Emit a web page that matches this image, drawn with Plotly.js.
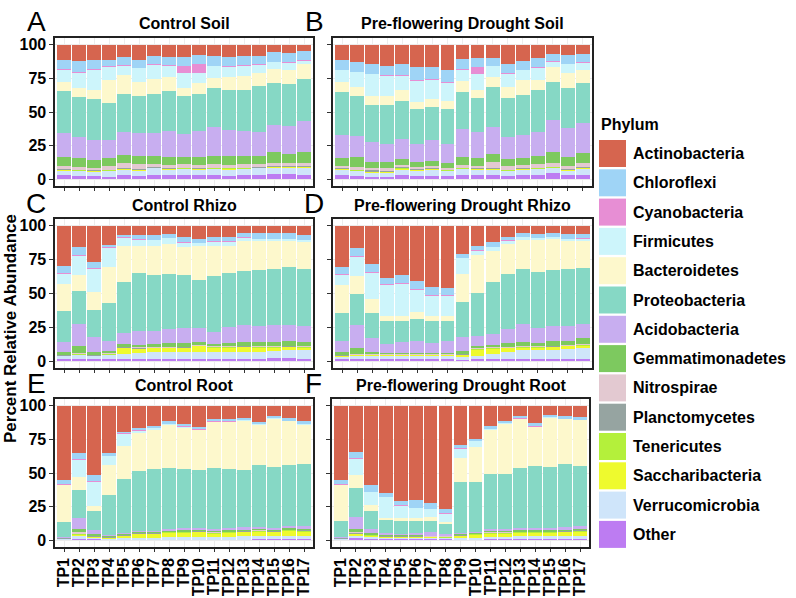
<!DOCTYPE html>
<html><head><meta charset="utf-8">
<script src="https://cdn.plot.ly/plotly-3.0.1.min.js"></script>
<style>html,body{margin:0;padding:0;background:#fff}#chart{width:796px;height:598px}</style>
</head><body><div id="chart"></div>
<script>
const phyla = ['Actinobacteria','Chloroflexi','Cyanobacteria','Firmicutes','Bacteroidetes','Proteobacteria','Acidobacteria','Gemmatimonadetes','Nitrospirae','Planctomycetes','Tenericutes','Saccharibacteria','Verrucomicrobia','Other'];
const colors = ['#D6654F','#9FD4F6','#E78ED4','#CDF5FB','#FDF8CC','#86D8C5','#C8AEF0','#7DC95F','#E3C9D1','#96A4A1','#B4F03B','#EEFA2E','#CFE5FA','#BD7CF2'];
const timepoints = ['TP1','TP2','TP3','TP4','TP5','TP6','TP7','TP8','TP9','TP10','TP11','TP12','TP13','TP14','TP15','TP16','TP17'];
const yTicks = [0, 25, 50, 75, 100];

// rows = time points, columns follow the phyla order
const controlSoil = [
[11,7,0.7,9,7,31,18,6,2.5,0.6,0.3,0.3,3.5,3],
[12,8,0.7,11,7,29.5,15.5,6.5,2,0.5,0.3,0.3,3.5,2.5],
[11.5,6.5,0.5,15,7,30,15,6,1.5,0.5,0.3,0.3,3,2.5],
[11,5,0.5,10,17,27.5,13,6,3,0.5,0.3,0.3,4,2],
[9,6,0.5,7,14,28.5,17,6,4,0.5,0.3,0.3,4,3],
[11,6,0.5,10,10.5,28,17,5.5,4,0.5,0.3,0.3,4,2.5],
[8.5,6,0.5,10.5,11,28.5,17,6,2.5,0.5,0.3,0.3,4.5,3.5],
[9,6,0.5,8.5,10.5,29,19.5,6,2.5,0.5,0.3,0.3,4,3],
[9,7,5,11.5,6,28,17,5.5,2.5,0.5,0.3,0.3,4.5,3],
[7.5,6.5,6.5,7.5,8.5,27,19,6.5,2,0.5,0.3,1,3.5,3],
[8.5,7,0.5,8.5,8,28.5,22,6,2.5,0.5,0.3,0.3,4,3.5],
[9,7,0.5,7.5,9,30,19,6.5,2,0.5,0.3,0.7,4.5,2.5],
[8,7,0.5,7.5,10.5,30,19,6,2.5,0.5,0.3,0.3,4.5,3],
[8,6.5,0.5,6,9.5,34,18,5.5,2.5,0.5,0.3,0.3,4.5,3.5],
[5.5,7,0.5,5,10.5,30.5,20.5,7.5,2.5,0.5,0.3,0.5,4.5,4],
[6,7,0.5,5,10.5,31,21,6.5,2.5,0.5,0.3,0.3,4.5,4],
[5,6.5,0.5,2.5,11,31,23,8,2.5,0.5,0.3,0.3,5,3.5]];

const droughtSoil = [
[11,7.5,0.5,8.5,8,31.5,17,6,2,0.5,0.3,0.3,4,3],
[12.5,7.5,0.5,11,7,29.5,15.5,7.5,2,0.5,0.3,0.3,3.5,2.5],
[14.5,7,0.5,16,7,27,15,5,1.5,1,0.3,0.3,3,2],
[15.5,7,0.5,15.5,6,29,13.5,5,2,0.5,0.3,0.3,3,2],
[14,8.5,0.5,10.5,8.5,28,15.5,4.5,1.5,0.5,0.3,1,4,3],
[16.5,10,0.7,15.5,5.5,25.5,14,3.5,1.5,0.5,0.3,0.3,4,2.5],
[16.5,9,0.7,14.5,6,24.5,15.5,3.5,2,0.5,0.3,0.3,4.5,2.5],
[18.5,9,0.7,13.5,6,26,14.5,3.5,1.5,0.5,0.3,0.3,3.5,2.5],
[10.5,7.5,0.5,8.5,8.5,27,21,6,2,0.5,0.3,0.3,4,3.5],
[10,6.5,5.5,12,5.5,25.5,19,6,2,0.5,0.3,0.3,4,3],
[9.5,6,0.5,8,7.5,30,20,6,4.5,0.5,0.3,0.3,4,3],
[14,7,0.5,10,8.5,29,16,5.5,2.5,0.5,0.3,0.3,3.5,2.5],
[12,6.5,0.5,7.5,11,30,16.5,5.5,2.5,0.5,0.3,0.3,4,3],
[10,6.5,0.5,9,8,31,18,6,2.5,0.5,0.3,0.3,4.5,3],
[6.5,5.5,0.7,4,10.5,28.5,23,8,3,0.5,0.3,0.5,3.5,4.5],
[8,6,0.5,6.5,11,30,21.5,6.5,2.5,0.5,0.3,0.3,3.5,3],
[7,6,0.5,5,9.5,29.5,22.5,7.5,3,0.5,0.3,0.5,4,3.5]];

const controlRhizo = [
[30,5,0.5,7.5,20,22.5,7.5,2,0.5,0.3,0.3,0.3,2,1.5],
[15.5,6,0.5,14.5,11.5,24.5,16.5,4.5,1,0.3,0.3,0.3,3,1.5],
[26.5,5,0.5,17,13,20,11,2,0.5,0.3,0.3,0.3,2,1.5],
[14.5,1.5,0.5,14,26.7,28.7,7.3,1.5,0.5,0.3,0.3,0.5,3,1.5],
[6.6,1.7,0.5,6,26.7,37.7,8,2,0.5,0.3,0.5,4,4,1.5],
[7,3,0.3,4.5,20,42.5,10,2,0.5,0.3,0.3,3,4.5,1.5],
[7,3.5,0.3,4,21.4,41.3,10,2,0.5,0.3,0.3,3,5,1.5],
[6,3,0.3,4,22.4,40,11,2.5,0.5,0.3,0.3,3,5,1.5],
[8.5,3.5,0.3,3.5,20.7,39,11,2.5,0.5,0.3,0.3,3,5,1.5],
[9.5,3,0.3,2,25,35.7,10.5,2,0.5,0.3,0.3,4.5,5,1.5],
[8,3.5,0.3,3,22.4,41.3,8.5,2,0.5,0.3,0.3,3.5,5,1.5],
[8,3.5,0.3,3,20,40,11.5,2.5,0.5,0.3,0.3,3,5.5,1.5],
[5.5,3,0.3,2.5,22.4,39.6,12.6,2.5,0.5,0.3,0.3,3.5,5,2],
[5.5,4,0.3,1.5,21.5,41,12,3,0.5,0.3,0.3,3,5,2],
[5.5,4,0.3,1.5,20.5,41.7,12.4,3,0.5,0.3,0.3,2.5,5,2.5],
[5,4.5,0.3,1.5,19.3,42.6,12.4,3,0.5,0.3,0.3,2.5,5.5,2.5],
[6.5,4,0.3,1.5,19.3,42,12.2,2.5,1,0.3,0.3,2,6,2]];

const droughtRhizo = [
[30.8,5,0.5,7.8,20.5,20.9,8,2,0.5,0.3,0.3,0.3,2,1.5],
[16.7,5.6,0.5,14.6,13.3,23.1,16.7,4.5,0.5,0.3,0.3,0.3,2.5,1.5],
[28.5,5.6,0.5,19.6,10.2,18.7,10,1.5,0.5,0.3,0.3,0.3,2.5,1.5],
[38.6,4.4,0.7,23,4.1,16.5,6.5,1,0.5,0.3,0.3,0.3,2.5,1.5],
[36.5,5.6,0.7,23.5,4.2,15.3,7.8,1,0.5,0.3,0.3,0.3,2.5,1.5],
[41,6,0.7,16.3,4.8,16.6,8.3,1,0.5,0.3,0.3,0.3,2.5,1.5],
[45.5,5.6,0.7,15,3.2,16.9,6.7,1,0.5,0.3,0.3,0.3,2.5,1.5],
[45.6,5.6,0.7,15,3.6,14.8,8.3,1,0.5,0.3,0.3,0.3,2.5,1.5],
[21.1,2.4,0.5,11.4,20.7,26.3,10,2,0.5,0.3,0.3,1.5,2,1],
[15,3,0.3,3.1,28.4,31.7,7.2,1.5,0.5,0.3,0.5,4.5,2.5,1.5],
[11.9,3.6,0.3,2.5,23.5,38.2,8.2,1.5,0.5,0.3,0.5,3.5,4,1.5],
[8.3,2.4,0.3,2.4,21.9,40.7,10.8,2.5,0.5,0.3,0.3,2.5,5.5,1.5],
[5,3.3,0.3,1.7,21.3,40.8,12.9,3,0.5,0.3,0.3,2,6,2],
[5.8,3.2,0.3,1.5,23.2,41.3,10.5,2.5,0.5,0.3,0.3,2,6,2],
[5.3,3,0.3,1.5,22.7,41.3,11.2,3,0.5,0.3,0.3,2,6.5,2],
[5.8,3.6,0.3,1.5,20.5,42,11.2,3,0.5,0.3,0.3,2,7,2],
[6.3,2.9,0.3,1.7,19.6,41.8,10.4,4,0.5,0.3,0.5,1.5,8,2]];

const controlRoot = [
[55.5,3.2,0.2,0.3,27.3,11.7,0.3,0.2,0.2,0.1,0.1,0.2,0.5,0.5],
[34.6,4.9,0.5,12.4,9.3,21.2,8.1,2.2,1,0.5,0.3,0.5,2.5,1],
[51.7,4.4,0.5,17.6,4.4,13.4,3.6,1,0.5,0.3,0.3,0.3,1,1],
[35.4,2,0.3,6.6,22.4,29.5,1,0.5,0.3,0.3,0.3,0.5,0.5,0.5],
[19.5,1.2,0.3,9,25.1,40.5,1,0.5,0.3,0.3,0.3,1,1.5,0.5],
[16.6,1.7,0.3,1.7,28,45.1,1,0.5,0.3,0.3,0.3,2.5,1.5,0.5],
[15.1,1.2,0.3,1.5,29,46.4,1,0.5,0.3,0.3,0.3,2.5,1.5,0.5],
[11.7,1.7,0.3,0.3,32.1,45.2,1.5,0.8,0.3,0.3,0.3,3,2,0.5],
[13.4,2,0.3,0.5,31,43.4,2,1,0.3,0.3,0.3,3,2,0.5],
[15.9,1.7,0.3,0.3,29.4,43,1.5,1,0.3,0.3,0.3,3.5,2,0.5],
[9.8,1.7,0.3,0.3,34,45.9,1.5,0.8,0.3,0.3,0.3,2.5,2,0.5],
[9.8,1.7,0.3,0.3,34.6,44.4,1.5,1,0.3,0.3,0.3,3,2,0.5],
[9.3,1.2,0.3,0.3,36.8,42.4,2,1,0.3,0.3,0.3,3,2.5,0.5],
[12.2,1.2,0.3,0.3,30,46.1,1.5,1,0.3,0.3,0.3,3,2.5,1],
[7.8,1.2,0.3,0.3,36.3,44.7,1.5,1,0.3,0.3,0.3,3,2,1],
[9.3,1.7,0.3,0.3,32.2,45.8,1.5,1,0.3,0.3,0.3,3.5,2.5,1],
[11.7,1.7,0.3,0.3,29.3,46.1,2,1,0.3,0.3,0.5,3,2.5,1]];

const droughtRoot = [
[55.5,3.1,0.2,0.3,26.9,12.1,0.5,0.2,0.2,0.1,0.1,0.2,0.5,0.5],
[34.6,4.2,0.7,12.2,9.8,21.4,9.1,2,1,0.3,0.3,1,2,1.5],
[58.7,5.1,0.5,9.3,4.9,12.9,3.4,1,0.3,0.3,0.3,0.8,1.5,1],
[64.7,2.9,0.5,15.1,2,9.2,1.7,0.5,0.3,0.3,0.3,0.5,1,1],
[70.7,3.2,0.5,9.2,2,9.5,1,0.5,0.3,0.3,0.3,0.5,1,1],
[70.7,5.4,0.5,7.3,2.4,8.6,1.9,0.5,0.3,0.3,0.3,0.3,1,1],
[72.4,4.4,0.5,5.6,2.9,8.6,2.4,0.5,0.3,0.3,0.3,0.3,0.8,1],
[76.8,3.4,0.5,5.6,1.7,7.3,1.7,0.3,0.3,0.3,0.3,0.3,0.7,1],
[29.3,2.2,0.3,6.8,18.3,37.7,1,0.5,0.3,0.3,0.3,1.5,1,0.5],
[24.9,1.2,0.3,4.1,26.4,36.7,1,0.5,0.3,0.3,0.3,2,1.5,0.5],
[15.1,2,0.3,0.5,32.7,41.2,1.5,0.8,0.3,0.3,0.3,2.5,1.5,1],
[11.5,1.2,0.3,0.3,37.1,41.4,1.5,0.8,0.3,0.3,0.3,2.5,1.5,1],
[7.3,2,0.3,0.3,36.3,44.4,2,1,0.3,0.3,0.3,2.5,2,1],
[13.2,2,0.3,0.3,29.2,45.6,2,1,0.3,0.3,0.3,2.5,2,1],
[6.6,1.7,0.3,0.3,36.6,45.1,2,1,0.3,0.3,0.3,2.5,2,1],
[7.3,2.2,0.3,0.3,33,47,2,1,0.3,0.3,0.3,3,2,1],
[8.3,2,0.3,0.3,33.7,45,2,1,0.3,0.3,1,2.5,2.5,1]];

const W = 796, H = 598;
const FONT = 'Liberation Sans, Arial, Helvetica, sans-serif';
const panels = [
  {data: controlSoil,  title: 'Control Soil', letter: 'A', box: [55, 313, 38, 186], ylab: true,  xlab: false},
  {data: droughtSoil,  title: 'Pre-flowering Drought Soil', letter: 'B', box: [333, 592, 38, 186], ylab: false, xlab: false},
  {data: controlRhizo, title: 'Control Rhizo', letter: 'C', box: [55, 313, 219, 368], ylab: true,  xlab: false},
  {data: droughtRhizo, title: 'Pre-flowering Drought Rhizo', letter: 'D', box: [333, 592, 219, 368], ylab: false, xlab: false},
  {data: controlRoot,  title: 'Control Root', letter: 'E', box: [55, 313, 399, 547], ylab: true,  xlab: true},
  {data: droughtRoot,  title: 'Pre-flowering Drought Root', letter: 'F', box: [332, 589, 399, 547], ylab: false, xlab: true}
];

const traces = [];
const layout = {
  width: W, height: H, margin: {l: 0, r: 0, t: 0, b: 0},
  paper_bgcolor: '#fff', plot_bgcolor: '#fff',
  barmode: 'stack', bargap: 0.08, showlegend: false,
  font: {family: FONT, color: '#000'},
  annotations: [], shapes: []
};

panels.forEach((p, i) => {
  const s = i === 0 ? '' : String(i + 1);
  const sums = p.data.map(r => r.reduce((a, b) => a + b, 0));
  for (let k = phyla.length - 1; k >= 0; k--) {
    traces.push({
      type: 'bar', name: phyla[k], x: timepoints,
      y: p.data.map((r, j) => r[k] / sums[j] * 100),
      marker: {color: colors[k], line: {width: 0}},
      xaxis: 'x' + s, yaxis: 'y' + s, showlegend: false,
      hovertemplate: phyla[k] + ' %{x}: %{y:.1f}%<extra></extra>'
    });
  }
  const [l, r, t, b] = p.box;
  layout['xaxis' + s] = {
    domain: [l / W, r / W], anchor: 'y' + s, type: 'category',
    categoryorder: 'array', categoryarray: timepoints,
    tickmode: 'array', tickvals: timepoints, ticktext: timepoints,
    range: [-0.6, 16.6], showgrid: true, gridcolor: '#ececec', gridwidth: 1,
    showline: true, mirror: true, linecolor: '#222', linewidth: 1.6,
    ticks: 'outside', ticklen: 3, tickcolor: '#333',
    showticklabels: p.xlab, tickangle: -90,
    tickfont: {family: FONT, size: 16, color: '#000', weight: 'bold'},
    fixedrange: true
  };
  layout['yaxis' + s] = {
    domain: [1 - b / H, 1 - t / H], anchor: 'x' + s,
    range: [-5, 105], tickvals: yTicks, ticktext: yTicks.map(String),
    showgrid: true, gridcolor: '#ececec', zeroline: false,
    showline: true, mirror: true, linecolor: '#222', linewidth: 1.6,
    ticks: 'outside', ticklen: 4, tickcolor: '#333',
    showticklabels: p.ylab,
    tickfont: {family: FONT, size: 16, color: '#000', weight: 'bold'},
    fixedrange: true
  };
  layout.annotations.push({
    text: '<b>' + p.title + '</b>', xref: 'paper', yref: 'paper',
    x: (l + r) / 2 / W, y: 1 - (t - 14) / H, xanchor: 'center', yanchor: 'middle',
    showarrow: false, font: {family: FONT, size: 16, color: '#000'}
  });
  layout.annotations.push({
    text: p.letter, xref: 'paper', yref: 'paper',
    x: (l - 19) / W, y: 1 - (t - 16) / H, xanchor: 'center', yanchor: 'middle',
    showarrow: false, font: {family: FONT, size: 28, color: '#000'}
  });
});

layout.annotations.push({
  text: '<b>Percent Relative Abundance</b>', xref: 'paper', yref: 'paper',
  x: 10 / W, y: 1 - 329 / H, xanchor: 'center', yanchor: 'middle', textangle: -90,
  showarrow: false, font: {family: FONT, size: 17, color: '#000'}
});

// legend (drawn manually to match large key boxes)
layout.annotations.push({
  text: '<b>Phylum</b>', xref: 'paper', yref: 'paper',
  x: 599 / W, y: 1 - 125 / H, xanchor: 'left', yanchor: 'middle',
  showarrow: false, font: {family: FONT, size: 16, color: '#000'}
});
const keyTop = 140, keyStep = 29.3, keyH = 27;
phyla.forEach((name, k) => {
  const y0 = keyTop + k * keyStep;
  layout.shapes.push({
    type: 'rect', xref: 'paper', yref: 'paper',
    x0: 599 / W, x1: 626 / W, y0: 1 - (y0 + keyH) / H, y1: 1 - y0 / H,
    fillcolor: colors[k], line: {width: 0}
  });
  layout.annotations.push({
    text: '<b>' + name + '</b>', xref: 'paper', yref: 'paper',
    x: 631 / W, y: 1 - (y0 + keyH / 2) / H, xanchor: 'left', yanchor: 'middle',
    showarrow: false, font: {family: FONT, size: 16, color: '#000'}
  });
});

Plotly.newPlot('chart', traces, layout, {displayModeBar: false, staticPlot: true});
</script></body></html>
